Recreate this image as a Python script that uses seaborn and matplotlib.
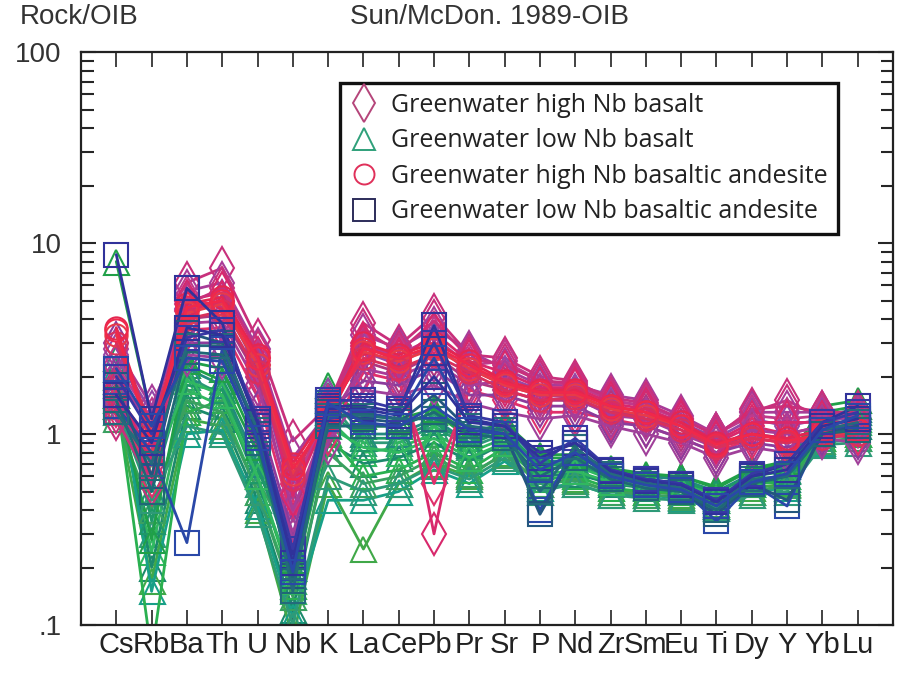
import numpy as np
import pandas as pd
import matplotlib
matplotlib.use("Agg")
import matplotlib.pyplot as plt
from matplotlib.lines import Line2D
from matplotlib.ticker import FixedLocator, LogLocator, NullFormatter
import seaborn as sns

sns.set_theme(style="white")
plt.rcParams["font.family"] = ["Liberation Sans", "DejaVu Sans"]

elements = ["Cs", "Rb", "Ba", "Th", "U", "Nb", "K", "La", "Ce", "Pb", "Pr",
            "Sr", "P", "Nd", "Zr", "Sm", "Eu", "Ti", "Dy", "Y", "Yb", "Lu"]

# OIB-normalised concentrations (Sun & McDonough 1989)
high_nb_basalt = [
    [1.3, 0.8, 6.2, 7.4, 3.1, 0.92, 1.4, 3.8, 2.9, 4.2, 2.6, 2.5, 2.0, 1.9, 1.5, 1.4, 1.2, 1.0, 1.3, 1.5, 1.2, 1.2],
    [2.0, 1.1, 5.6, 6.2, 2.8, 0.75, 1.3, 3.3, 2.8, 3.6, 2.7, 2.2, 1.8, 1.8, 1.6, 1.5, 1.25, 1.0, 1.3, 1.3, 1.3, 1.25],
    [1.6, 0.9, 5.0, 5.5, 2.5, 0.55, 1.2, 3.0, 2.5, 0.3, 2.2, 1.8, 1.6, 1.7, 1.4, 1.3, 1.1, 0.9, 1.1, 1.0, 1.1, 1.1],
    [2.6, 1.3, 4.5, 5.0, 2.2, 0.45, 1.5, 2.7, 2.3, 3.0, 2.1, 2.0, 1.7, 1.6, 1.35, 1.35, 1.15, 0.95, 1.2, 1.1, 1.2, 1.2],
    [1.8, 0.7, 4.0, 4.2, 2.0, 0.38, 1.1, 2.4, 2.1, 2.6, 1.9, 1.7, 1.5, 1.5, 1.3, 1.25, 1.05, 0.85, 1.0, 0.95, 1.05, 1.0],
    [1.4, 0.6, 3.5, 3.6, 1.6, 0.35, 1.0, 2.1, 1.9, 0.55, 1.7, 1.5, 1.3, 1.3, 1.2, 1.1, 0.95, 0.8, 0.95, 0.9, 1.0, 1.0],
    [3.0, 1.0, 3.0, 3.0, 1.3, 0.30, 1.3, 1.9, 1.8, 2.2, 1.6, 1.6, 1.4, 1.4, 1.15, 1.1, 0.95, 0.8, 0.9, 0.85, 1.0, 0.95],
    [2.3, 1.2, 5.2, 4.6, 2.4, 0.50, 1.4, 2.8, 2.6, 3.2, 2.3, 2.4, 1.9, 1.8, 1.5, 1.4, 1.2, 1.0, 1.25, 1.2, 1.25, 1.2],
    [1.5, 0.9, 2.6, 2.5, 1.1, 0.28, 0.9, 1.7, 1.6, 1.8, 1.45, 1.3, 1.2, 1.25, 1.1, 1.0, 0.9, 0.75, 0.85, 0.8, 0.95, 0.9],
    [1.2, 0.55, 4.8, 5.8, 2.7, 0.60, 1.35, 3.5, 2.7, 3.9, 2.5, 2.3, 1.9, 1.85, 1.55, 1.45, 1.2, 0.98, 1.35, 1.4, 1.3, 1.3],
    [2.8, 1.4, 3.8, 3.9, 1.8, 0.40, 1.2, 2.2, 2.0, 2.4, 1.8, 1.9, 1.6, 1.55, 1.25, 1.2, 1.0, 0.85, 1.05, 1.0, 1.1, 1.1],
    [1.7, 0.75, 4.4, 4.9, 2.3, 0.48, 1.25, 2.9, 2.4, 3.4, 2.4, 2.1, 1.75, 1.75, 1.45, 1.35, 1.15, 0.92, 1.15, 1.15, 1.15, 1.15],
]
low_nb_basalt = [
    [8.0, 1.2, 2.3, 1.9, 0.8, 0.20, 1.8, 1.1, 1.1, 1.3, 0.95, 1.1, 0.75, 0.75, 0.65, 0.6, 0.6, 0.52, 0.65, 0.7, 1.3, 1.4],
    [1.3, 0.3, 2.0, 1.6, 0.55, 0.18, 1.5, 0.9, 0.9, 1.1, 0.85, 1.0, 0.7, 0.7, 0.6, 0.58, 0.55, 0.5, 0.6, 0.65, 1.2, 1.3],
    [1.5, 0.24, 1.7, 1.4, 0.5, 0.15, 1.2, 0.8, 0.85, 1.0, 0.8, 0.95, 0.65, 0.68, 0.58, 0.55, 0.55, 0.48, 0.58, 0.6, 1.1, 1.2],
    [1.8, 0.2, 1.4, 1.2, 0.45, 0.12, 0.9, 0.7, 0.75, 0.9, 0.72, 0.9, 0.6, 0.62, 0.55, 0.52, 0.5, 0.45, 0.55, 0.58, 1.0, 1.1],
    [1.4, 0.17, 1.2, 1.1, 0.4, 0.085, 0.55, 0.25, 0.55, 0.7, 0.6, 0.8, 0.55, 0.58, 0.5, 0.5, 0.48, 0.43, 0.52, 0.55, 0.95, 1.0],
    [2.2, 0.15, 1.0, 1.05, 0.42, 0.11, 0.45, 0.45, 0.5, 0.65, 0.55, 0.72, 0.52, 0.55, 0.48, 0.48, 0.46, 0.42, 0.5, 0.52, 0.9, 0.95],
    [1.6, 0.07, 1.3, 1.5, 0.6, 0.16, 1.0, 0.6, 0.65, 0.8, 0.65, 0.85, 0.58, 0.6, 0.52, 0.5, 0.5, 0.45, 0.55, 0.56, 0.95, 1.0],
    [1.9, 0.5, 2.2, 1.8, 0.7, 0.20, 1.6, 1.0, 1.0, 1.2, 0.9, 1.1, 0.72, 0.72, 0.62, 0.6, 0.58, 0.5, 0.62, 0.68, 1.25, 1.35],
    [1.2, 0.4, 1.5, 1.3, 0.5, 0.14, 0.8, 0.55, 0.6, 0.75, 0.62, 0.78, 0.55, 0.57, 0.5, 0.48, 0.47, 0.42, 0.5, 0.54, 0.92, 0.95],
    [2.5, 0.35, 1.8, 1.7, 0.65, 0.25, 1.3, 0.95, 0.95, 1.15, 0.88, 1.05, 0.68, 0.7, 0.6, 0.57, 0.56, 0.5, 0.6, 0.64, 1.15, 1.25],
    [1.6, 0.28, 2.4, 2.2, 0.85, 0.22, 1.7, 1.25, 1.2, 1.35, 1.0, 1.15, 0.78, 0.78, 0.66, 0.62, 0.6, 0.53, 0.66, 0.72, 1.4, 1.5],
    [1.4, 0.45, 1.1, 1.0, 0.38, 0.10, 0.6, 0.5, 0.55, 0.68, 0.58, 0.75, 0.5, 0.55, 0.48, 0.46, 0.45, 0.41, 0.48, 0.5, 0.88, 0.9],
    [2.0, 0.6, 1.9, 1.6, 0.6, 0.17, 1.1, 0.85, 0.8, 0.95, 0.75, 0.9, 0.62, 0.64, 0.56, 0.53, 0.52, 0.46, 0.56, 0.6, 1.05, 1.15],
]
high_nb_andesite = [
    [3.6, 1.0, 4.8, 5.2, 2.6, 0.70, 1.3, 3.0, 2.6, 3.0, 2.4, 1.9, 1.7, 1.7, 1.4, 1.3, 1.15, 0.9, 1.0, 0.95, 1.05, 1.05],
    [3.3, 0.95, 4.3, 4.8, 2.3, 0.62, 1.25, 2.7, 2.4, 2.8, 2.2, 1.8, 1.6, 1.6, 1.35, 1.25, 1.1, 0.85, 0.95, 0.9, 1.0, 1.0],
    [3.0, 1.1, 4.0, 4.4, 2.1, 0.58, 1.35, 2.5, 2.2, 2.6, 2.1, 1.7, 1.5, 1.55, 1.3, 1.2, 1.05, 0.85, 0.95, 0.9, 0.95, 1.0],
    [3.5, 0.9, 4.6, 5.0, 2.5, 0.66, 1.2, 2.8, 2.5, 2.9, 2.3, 1.85, 1.65, 1.65, 1.4, 1.3, 1.1, 0.88, 1.0, 0.92, 1.0, 1.05],
]
low_nb_andesite = [
    [8.7, 1.2, 5.8, 3.8, 1.1, 0.23, 1.4, 1.4, 1.3, 3.7, 1.2, 1.1, 0.8, 0.9, 0.65, 0.58, 0.55, 0.45, 0.6, 0.7, 1.15, 1.4],
    [1.4, 0.8, 0.27, 2.8, 1.0, 0.20, 1.2, 1.3, 1.2, 2.5, 1.1, 1.0, 0.4, 0.85, 0.6, 0.55, 0.52, 0.35, 0.55, 0.42, 1.05, 1.1],
    [1.8, 0.6, 3.4, 3.0, 1.0, 0.18, 1.3, 1.2, 1.15, 1.6, 1.05, 1.0, 0.38, 0.8, 0.6, 0.55, 0.5, 0.38, 0.55, 0.45, 1.0, 1.1],
    [1.5, 0.5, 2.7, 2.6, 0.9, 0.17, 1.1, 1.1, 1.1, 1.3, 1.0, 0.95, 0.6, 0.75, 0.58, 0.52, 0.5, 0.4, 0.55, 0.6, 1.0, 1.05],
    [2.0, 1.0, 3.2, 3.5, 1.2, 0.25, 1.5, 1.5, 1.35, 3.0, 1.25, 1.15, 0.7, 0.95, 0.65, 0.58, 0.55, 0.45, 0.62, 0.7, 1.15, 1.3],
    [1.3, 0.7, 2.9, 2.9, 1.05, 0.15, 1.25, 1.25, 1.2, 1.2, 1.1, 1.05, 0.5, 0.85, 0.62, 0.55, 0.52, 0.42, 0.58, 0.6, 1.05, 1.15],
    [1.6, 0.9, 3.6, 3.3, 1.15, 0.21, 1.35, 1.35, 1.25, 2.0, 1.15, 1.1, 0.75, 0.9, 0.64, 0.57, 0.54, 0.44, 0.6, 0.65, 1.1, 1.2],
    [2.2, 1.1, 2.5, 2.4, 0.95, 0.19, 1.45, 1.15, 1.1, 1.4, 1.05, 1.0, 0.65, 0.8, 0.6, 0.54, 0.51, 0.42, 0.56, 0.62, 1.05, 1.25],
]

group_names = ["Greenwater high Nb basalt", "Greenwater low Nb basalt",
               "Greenwater high Nb basaltic andesite", "Greenwater low Nb basaltic andesite"]
group_markers = ["d", "^", "o", "s"]
group_sizes = [21, 18, 16, 17]
legend_colors = ["#B5457A", "#2FA07A", "#E0305A", "#2C2C5A"]
sample_palettes = [
    ["#C8307C", "#A83C98", "#D8286C", "#9448A8", "#B0367E", "#E0306C", "#8C3C9C", "#C03A8C", "#A0409A"],
    ["#20A048", "#2E9A78", "#30B860", "#1C8A6C", "#40A848", "#18A088", "#2AB050", "#238A80", "#3AA060", "#1E9868"],
    ["#E42650", "#E83A48", "#D8305C", "#F0284A"],
    ["#30329A", "#2A48A8", "#23567E", "#1F6876", "#3838A4", "#246A7C"],
]
all_groups = [high_nb_basalt, low_nb_basalt, high_nb_andesite, low_nb_andesite]

records = []
for g, samples in enumerate(all_groups):
    for s, vals in enumerate(samples):
        for i, v in enumerate(vals):
            records.append({"group": g, "sample": f"{g}-{s}", "pos": i + 1, "value": v})
df = pd.DataFrame(records)

fig = plt.figure(figsize=(8.98, 6.73), dpi=100)
ax = fig.add_axes([0.0902, 0.0713, 0.9042, 0.8514])

draw_order = [1, 0, 2, 3]
for g in draw_order:
    sub = df[df["group"] == g]
    for s_idx, (name, part) in enumerate(sub.groupby("sample", sort=False)):
        col = sample_palettes[g][s_idx % len(sample_palettes[g])]
        sns.lineplot(data=part, x="pos", y="value", ax=ax, color=col, lw=2.0,
                     marker=group_markers[g], markersize=group_sizes[g],
                     markerfacecolor="none", markeredgecolor=col, markeredgewidth=1.5,
                     estimator=None, legend=False)

ax.set_yscale("log")
ax.set_ylim(0.1, 100)
ax.set_xlim(0, 23)
ax.set_xlabel("")
ax.set_ylabel("")

ax.xaxis.set_major_locator(FixedLocator(range(1, 23)))
ax.set_xticklabels(elements, fontsize=21)
ax.yaxis.set_major_locator(FixedLocator([0.1, 1, 10, 100]))
ax.set_yticklabels([".1", "1", "10", "100"], fontsize=20)
ax.yaxis.set_minor_locator(LogLocator(base=10, subs=np.arange(2, 10)))
ax.yaxis.set_minor_formatter(NullFormatter())

ax.tick_params(axis="x", which="major", direction="in", length=11, width=1.2,
               top=True, bottom=True, pad=4, colors="#222222", labelcolor="#222222")
ax.tick_params(axis="y", which="major", direction="in", length=11, width=1.5,
               left=True, right=True, pad=14, labelcolor="#333333")
ax.tick_params(axis="y", which="minor", direction="in", length=9, width=1.5,
               left=True, right=True)
for sp in ax.spines.values():
    sp.set_color("#222222")
    sp.set_linewidth(1.6)

fig.text(0.022, 0.975, "Rock/OIB", fontsize=20, va="center", ha="left", color="#333333")
fig.text(0.545, 0.975, "Sun/McDon. 1989-OIB", fontsize=20, va="center", ha="center",
         color="#333333")

handles = [Line2D([], [], linestyle="none", marker=m, markersize=sz * 0.9,
                  markerfacecolor="none", markeredgecolor=c, markeredgewidth=1.4)
           for m, sz, c in zip(group_markers, group_sizes, legend_colors)]
leg = ax.legend(handles, group_names, loc="upper left", bbox_to_anchor=(0.319, 0.946),
                frameon=True, fancybox=False, framealpha=1, edgecolor="#111111",
                prop={"family": ["Open Sans", "DejaVu Sans"], "size": 18},
                handlelength=1.1, handletextpad=0.55, labelspacing=0.42,
                borderpad=0.4, borderaxespad=0)
leg.get_frame().set_linewidth(2.4)
for t in leg.get_texts():
    t.set_color("#222222")

fig.savefig("out.png", dpi=100)
